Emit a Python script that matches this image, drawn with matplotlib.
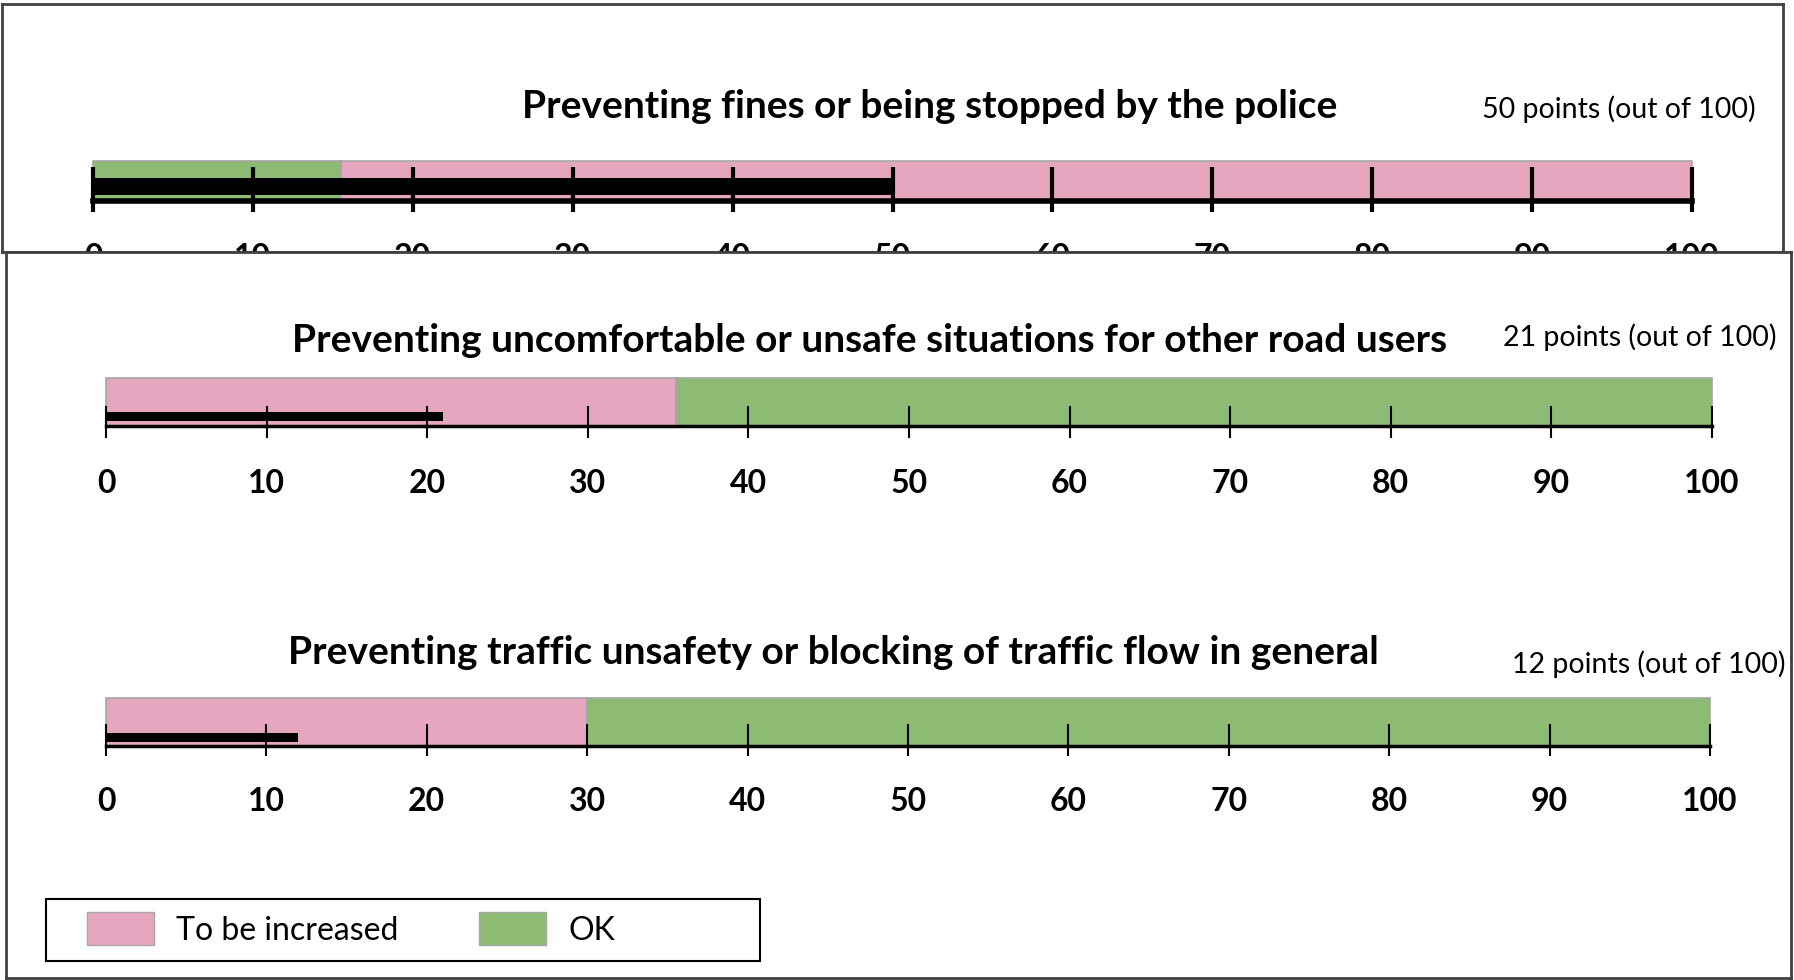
import matplotlib.pyplot as plt
from matplotlib.patches import Patch, Rectangle

plt.rcParams["font.family"] = ["Lato", "DejaVu Sans"]

W, H = 1794, 980

titles = [
    "Preventing fines or being stopped by the police",
    "Preventing uncomfortable or unsafe situations for other road users",
    "Preventing traffic unsafety or blocking of traffic flow in general",
]
scores = [50, 21, 12]
# where the band switches colour, and which zone sits left of it
thresholds = [15.5, 35.5, 30]
left_zone = ["OK", "To be increased", "To be increased"]
ticks = [0, 10, 20, 30, 40, 50, 60, 70, 80, 90, 100]

PINK = "#E6A6BF"
GREEN = "#8EBB73"
EDGE = "#A6A6A6"
zone_color = {"To be increased": PINK, "OK": GREEN}


def px_rect(x0, y0, x1, y1):
    return [x0 / W, 1 - y1 / H, (x1 - x0) / W, (y1 - y0) / H]


def px(v):
    # pixels -> points at dpi 100
    return v * 72 / 100


fig = plt.figure(figsize=(W / 100, H / 100), dpi=100)

# panel frames: the lower one is white and hides the bottom of the upper one
frame1 = fig.add_axes(px_rect(2, 4, 1783, 252), zorder=0)
frame2 = fig.add_axes(px_rect(6, 252, 1791, 978), zorder=1)
for fr in (frame1, frame2):
    fr.set_facecolor("white")
    fr.set_xticks([])
    fr.set_yticks([])
    for s in fr.spines.values():
        s.set_color("#404040")
        s.set_linewidth(2)

# layout for each gauge
bar_px = [(93, 161, 1692, 201), (106, 378, 1712, 426), (106, 698, 1710, 746)]
black_y = [(0.15, 0.58), (0.10, 0.29), (0.08, 0.27)]
axis_lw = [4, 2.5, 2.5]
tick_w = [3, 1.5, 1.5]
tick_in = [34, 20, 22]
tick_out = [11, 12, 10]
zorders = [0.5, 2, 2]
title_pos = [(930, 106), (870, 340), (833, 653)]
note_pos = [(1756, 109), (1776, 337), (1785, 664)]

for i in range(3):
    ax = fig.add_axes(px_rect(*bar_px[i]), zorder=zorders[i])
    ax.set_facecolor("none")
    thr = thresholds[i]
    c_left = zone_color[left_zone[i]]
    c_right = PINK if c_left == GREEN else GREEN
    ax.barh(0.5, thr, left=0, height=1, color=c_left, edgecolor=EDGE,
            linewidth=1.2, clip_on=False)
    ax.barh(0.5, 100 - thr, left=thr, height=1, color=c_right, edgecolor=EDGE,
            linewidth=1.2, clip_on=False)
    y0, y1 = black_y[i]
    ax.barh((y0 + y1) / 2, scores[i], left=0, height=y1 - y0, color="black",
            clip_on=False, zorder=3)
    ax.set_xlim(0, 100)
    ax.set_ylim(0, 1)
    for s in ("top", "left", "right"):
        ax.spines[s].set_visible(False)
    ax.spines["bottom"].set_color("black")
    ax.spines["bottom"].set_linewidth(axis_lw[i])
    ax.spines["bottom"].set_zorder(4)
    ax.set_yticks([])
    ax.set_xticks(ticks)
    ax.set_xticks(ticks, minor=True)
    ax.xaxis.remove_overlapping_locs = False
    ax.tick_params(axis="x", which="major", direction="in", length=px(tick_in[i]),
                   width=tick_w[i], color="black", labelsize=23, pad=px(tick_out[i]) + 22)
    ax.tick_params(axis="x", which="minor", direction="out", length=px(tick_out[i]),
                   width=tick_w[i], color="black")
    for lab in ax.get_xticklabels():
        lab.set_fontweight("bold")

    tx, ty = title_pos[i]
    fig.text(tx / W, 1 - ty / H, titles[i], ha="center", va="center",
             fontsize=28, fontweight="bold", zorder=5)
    nx, ny = note_pos[i]
    fig.text(nx / W, 1 - ny / H, f"{scores[i]} points (out of 100)", ha="right",
             va="center", fontsize=20.5, zorder=5)

# legend box
box = Rectangle((46 / W, 1 - 961 / H), (760 - 46) / W, (961 - 899) / H,
                transform=fig.transFigure, facecolor="white", edgecolor="black",
                linewidth=1.5, zorder=3)
fig.add_artist(box)
handles = [
    Patch(facecolor=PINK, edgecolor=EDGE, label="To be increased"),
    Patch(facecolor=GREEN, edgecolor=EDGE, label="OK"),
]
leg = fig.legend(handles=handles, ncol=2, loc="center left",
                 bbox_to_anchor=(87 / W, 1 - 929 / H), frameon=False, fontsize=23,
                 handlelength=2.1, handleheight=1.2, handletextpad=0.7,
                 columnspacing=2.5, borderpad=0, borderaxespad=0)
leg.set_zorder(4)

fig.savefig("out.png", dpi=100, facecolor="white")
